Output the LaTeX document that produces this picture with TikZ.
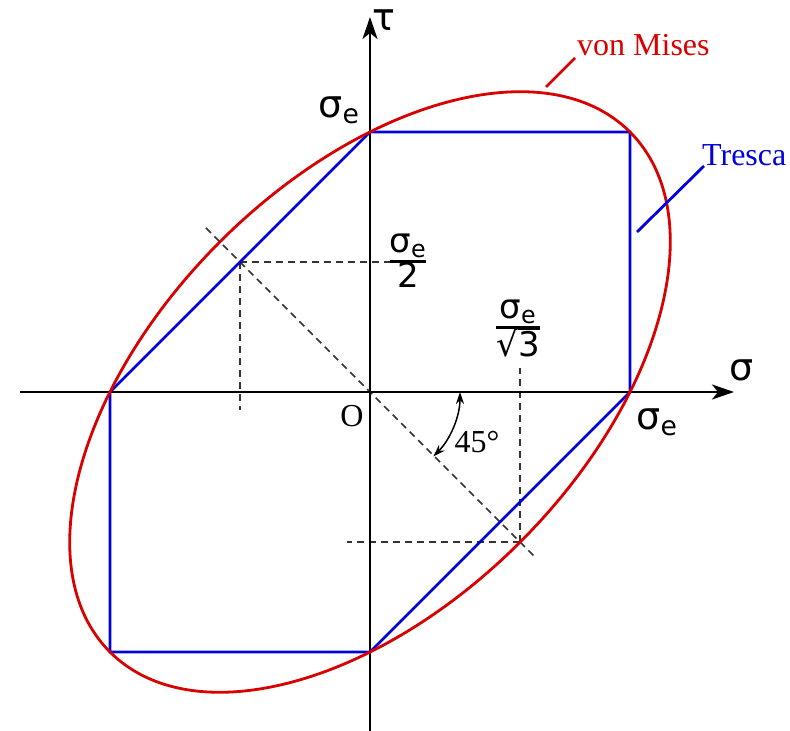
\documentclass[tikz,border=0pt]{standalone}
\usepackage{fontspec}
\setmainfont{Liberation Serif}
\newfontfamily\dvfont{DejaVu Sans}
\usetikzlibrary{arrows.meta}
\newcommand{\sigE}{σ\textsubscript{e}}
\begin{document}
\begin{tikzpicture}[x=1pt,y=1pt,
  axis/.style={line width=2.8pt,black,-{Stealth[length=22pt,width=15pt,inset=6pt]}},
  tresca/.style={line width=2.8pt,blue!85!black,line join=miter},
  mises/.style={line width=2.8pt,red!85!black},
  guide/.style={line width=1.6pt,black!80,dash pattern=on 7pt off 5pt},
  symlbl/.style={font=\dvfont\fontsize{38}{42}\selectfont,inner sep=0pt},
  serlbl/.style={font=\fontsize{32}{36}\selectfont,inner sep=0pt},
  fraclbl/.style={font=\dvfont\fontsize{34}{36}\selectfont,inner sep=0pt}]
\useasboundingbox (-370,-339) rectangle (420,392);
% named points
\coordinate (O) at (0,0);
\coordinate (A) at (0,260);
\coordinate (B) at (260,260);
\coordinate (C) at (260,0);
\coordinate (D) at (0,-260);
\coordinate (E) at (-260,-260);
\coordinate (F) at (-260,0);
\coordinate (P1) at (-130,130);
\coordinate (P2) at (150.1,-150.1);
\coordinate (d1) at (-164,164);
\coordinate (d2) at (164,-164);
\coordinate (h1) at (20,130);
\coordinate (v1) at (-130,-18);
\coordinate (h2) at (-23,-150.1);
\coordinate (v2) at (150.1,24);
\coordinate (xs) at (-350,0);
\coordinate (xe) at (364,0);
\coordinate (ys) at (0,-339);
\coordinate (ye) at (0,375);
\coordinate (vm1) at (176,305);
\coordinate (vm2) at (205,334);
\coordinate (tr1) at (267,160);
\coordinate (tr2) at (334,226);
% guides
\draw[guide] (d1) -- (d2);
\draw[guide] (P1) -- (h1);
\draw[guide] (P1) -- (v1);
\draw[guide] (P2) -- (h2);
\draw[guide] (P2) -- (v2);
% axes
\draw[axis] (xs) -- (xe);
\draw[axis] (ys) -- (ye);
% Tresca hexagon
\draw[tresca] (A) -- (B) -- (C) -- (D) -- (E) -- (F) -- cycle;
% von Mises ellipse
\draw[mises,rotate=45] (O) ellipse [x radius=367.7, y radius=212.3];
% leaders
\draw[mises] (vm1) -- (vm2);
\draw[tresca] (tr1) -- (tr2);
% angle
\draw[line width=1.5pt,{Stealth[length=12pt,width=8pt]}-{Stealth[length=12pt,width=8pt]}] (90,0) arc (0:-45:91);
% labels
\node[symlbl] (tau) at (14,372) {τ};
\node[symlbl] (sig) at (372,22) {σ};
\node[symlbl] (se1) at (-31,282) {\sigE};
\node[symlbl] (se2) at (287,-30) {\sigE};
\node[serlbl] (o) at (-18,-24) {O};
\node[serlbl] (ang) at (107,-50) {45°};
\node[serlbl,text=red!85!black,anchor=west] (vm) at (207,347) {von Mises};
\node[serlbl,text=blue!85!black,anchor=west] (tr) at (332,237) {Tresca};
\node[fraclbl] (f2) at (38,129) {\setlength{\arrayrulewidth}{2.4pt}\renewcommand{\arraystretch}{1.0}\begin{tabular}{@{}c@{}}\sigE\\[-3pt]\hline 2\end{tabular}};
\node[fraclbl] (f3) at (148,62) {\setlength{\arrayrulewidth}{2.4pt}\renewcommand{\arraystretch}{1.0}\begin{tabular}{@{}c@{}}\sigE\\[-3pt]\hline √$\overline{\mbox{3}}$\end{tabular}};
\end{tikzpicture}
\end{document}
